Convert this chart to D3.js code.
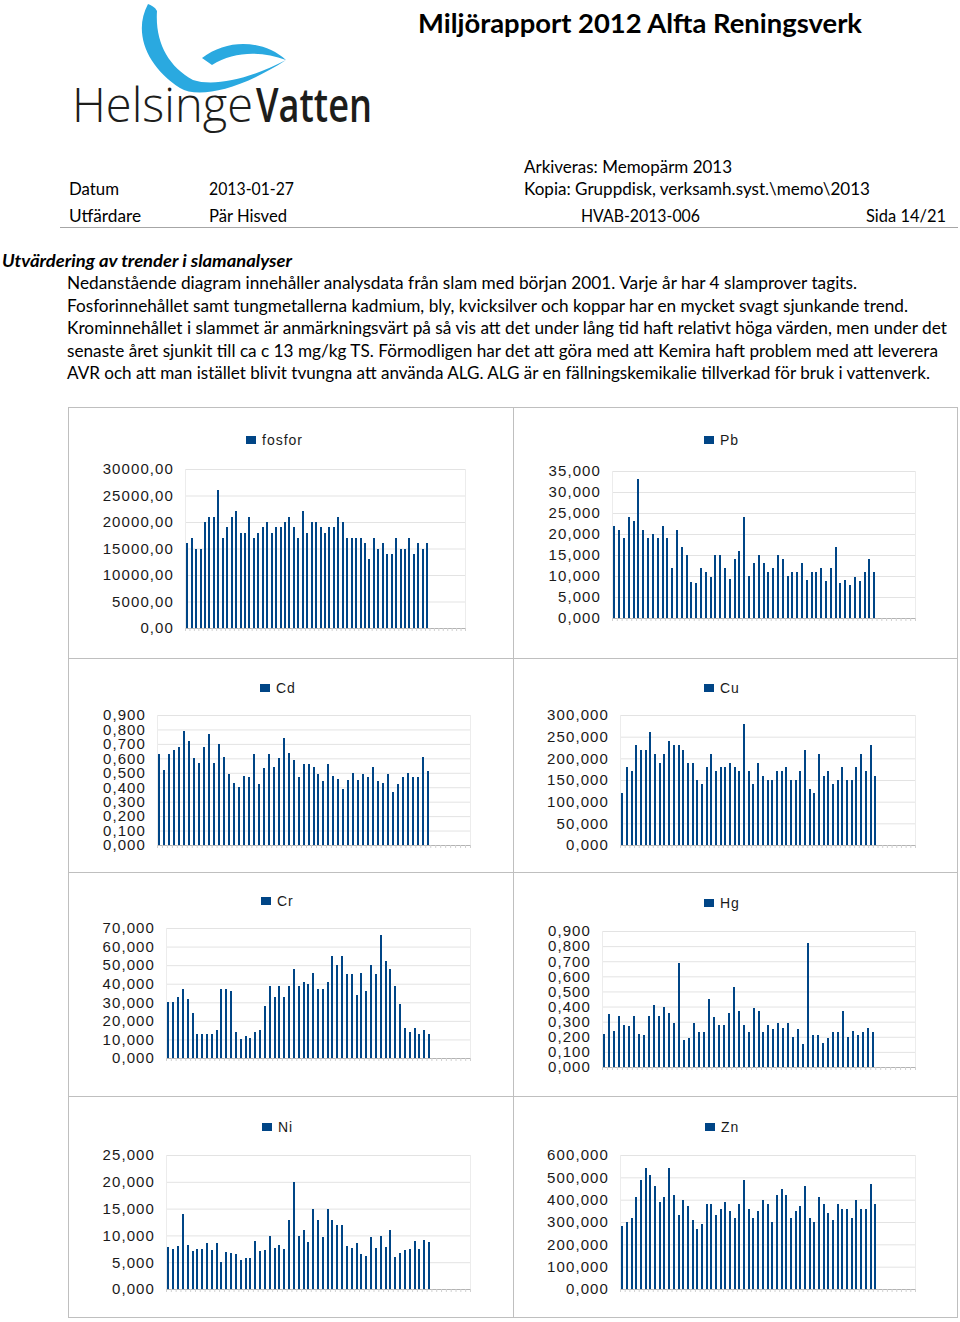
<!DOCTYPE html>
<html>
<head>
<meta charset="utf-8">
<script src="https://cdn.jsdelivr.net/npm/d3@7"></script>
<style>
  body { margin: 0; background: #fff; }
  svg { display: block; }
</style>
</head>
<body>
<div id="page"></div>
<script>
(function() {

// ---- data (one bar per slam sample, 2001 onwards) ----
var sampleSlots = d3.range(1, 64);   // 63 category slots on every x-axis, first 55 filled

var fosfor = [16000,17000,15000,15000,20000,21000,21000,26000,17000,19000,
              21000,22000,18000,18000,21000,17000,18000,19000,20000,18000,
              19000,19000,20000,21000,19000,17000,22000,18000,20000,20000,
              19000,18000,19000,19000,21000,20000,17000,17000,17000,17000,
              16000,13000,17000,15000,16000,14000,14000,17000,15000,15000,
              17000,14000,16000,15000,16000];
var pb = [22,21,19,24,23,33,21,19,20,19,
          22,19,12,21,17,15,8.5,8.3,12,11,
          9.7,15,15,12,9.4,14,16,24,10,13,
          15,13,11,12,15,14,10,11,11,13,
          9.1,11,11,12,8.8,12,17,8.3,9,7.9,
          9.8,8.8,11,14,11];
var cd = [0.63,0.52,0.63,0.66,0.68,0.79,0.72,0.60,0.57,0.68,
          0.77,0.57,0.70,0.61,0.49,0.43,0.40,0.48,0.47,0.63,
          0.42,0.53,0.63,0.54,0.60,0.74,0.64,0.59,0.47,0.56,
          0.56,0.54,0.49,0.44,0.56,0.48,0.46,0.39,0.45,0.50,
          0.45,0.49,0.47,0.54,0.44,0.43,0.49,0.37,0.42,0.47,
          0.50,0.47,0.47,0.61,0.51];
var cu = [120,180,170,230,220,220,260,210,190,210,
          240,230,230,220,190,190,150,140,180,210,
          170,180,180,190,180,170,280,170,140,190,
          160,150,150,170,170,180,150,150,170,220,
          130,120,210,160,170,140,150,180,150,150,
          180,210,170,230,160];
var cr = [30,30,33,37,32,24,13,13,13,13,
          15,37,37,36,14,10,12,11,14,15,
          28,39,33,39,33,39,48,39,41,40,
          46,37,37,41,55,50,55,45,45,34,
          46,36,50,45,66,52,48,39,29,16,
          14,16,13,15,13];
var hg = [0.22,0.35,0.24,0.34,0.28,0.27,0.34,0.22,0.21,0.34,
          0.41,0.34,0.40,0.36,0.29,0.69,0.18,0.19,0.29,0.23,
          0.23,0.45,0.33,0.28,0.28,0.36,0.53,0.37,0.28,0.23,
          0.39,0.37,0.23,0.28,0.25,0.29,0.26,0.29,0.20,0.25,
          0.15,0.82,0.21,0.21,0.16,0.19,0.23,0.23,0.37,0.20,
          0.24,0.21,0.23,0.26,0.23];
var ni = [7.8,7.5,8.0,14.0,8.3,7.0,7.4,7.4,8.6,7.2,
          8.6,5.0,6.9,6.8,6.5,5.5,5.7,5.8,9.0,7.0,
          7.3,9.9,7.6,8.3,7.4,12.9,20.0,9.9,11.0,8.8,
          15.0,12.9,9.7,15.0,12.9,12.0,12.0,8.1,7.6,8.6,
          6.5,6.1,9.7,7.7,9.9,7.8,11.0,5.9,6.8,7.2,
          7.4,9.0,7.5,9.2,8.7];
var zn = [280,300,320,410,490,540,510,460,390,410,
          540,420,330,400,370,310,270,290,380,380,
          330,360,390,350,320,380,490,360,320,350,
          400,380,300,420,450,420,320,350,370,460,
          320,300,410,380,340,310,380,360,360,320,
          400,360,360,470,380];

// tick values of each y-axis
var fosforTicks = [0,5000,10000,15000,20000,25000,30000];
var pbTicks = [0,5,10,15,20,25,30,35];
var cdTicks = [0,0.1,0.2,0.3,0.4,0.5,0.6,0.7,0.8,0.9];
var cuTicks = [0,50,100,150,200,250,300];
var crTicks = [0,10,20,30,40,50,60,70];
var hgTicks = [0,0.1,0.2,0.3,0.4,0.5,0.6,0.7,0.8,0.9];
var niTicks = [0,5,10,15,20,25];
var znTicks = [0,100,200,300,400,500,600];

// document text
var titleText = "Miljörapport 2012 Alfta Reningsverk";
var headingText = "Utvärdering av trender i slamanalyser";
var bodyLines = [
    "Nedanstående diagram innehåller analysdata från slam med början 2001. Varje år har 4 slamprover tagits.",
    "Fosforinnehållet samt tungmetallerna kadmium, bly, kvicksilver och koppar har en mycket svagt sjunkande trend.",
    "Krominnehållet i slammet är anmärkningsvärt på så vis att det under lång tid haft relativt höga värden, men under det",
    "senaste året sjunkit till ca c 13 mg/kg TS. Förmodligen har det att göra med att Kemira haft problem med att leverera",
    "AVR och att man istället blivit tvungna att använda ALG. ALG är en fällningskemikalie tillverkad för bruk i vattenverk."
];

// ---- page layout ----
var W = 960, H = 1322;
var docFont = "Lato, 'Open Sans', 'Noto Sans', sans-serif";
var chartFont = "'Liberation Sans', Arial, sans-serif";
var barColor = "#004586";

var sve = d3.formatLocale({decimal: ",", thousands: "", grouping: [3], currency: ["", " kr"]});

var svg = d3.select("#page")
    .append("svg")
    .attr("width", W)
    .attr("height", H);

svg.append("rect").attr("width", W).attr("height", H).attr("fill", "#fff");

drawLogo();
drawHeader();
drawTable();

var panels = [
    {name: "fosfor", values: fosfor, ticks: fosforTicks, fmt: sve.format(".2f"), x0: 185, x1: 465, top: 469, bottom: 628, lx: 246, ly: 440},
    {name: "Pb", values: pb, ticks: pbTicks, fmt: sve.format(".3f"), x0: 612, x1: 915, top: 471, bottom: 618, lx: 704, ly: 440},
    {name: "Cd", values: cd, ticks: cdTicks, fmt: sve.format(".3f"), x0: 157, x1: 470, top: 715, bottom: 845, lx: 260, ly: 688},
    {name: "Cu", values: cu, ticks: cuTicks, fmt: sve.format(".3f"), x0: 620, x1: 915, top: 715, bottom: 845, lx: 704, ly: 688},
    {name: "Cr", values: cr, ticks: crTicks, fmt: sve.format(".3f"), x0: 166, x1: 470, top: 928, bottom: 1058, lx: 261, ly: 901},
    {name: "Hg", values: hg, ticks: hgTicks, fmt: sve.format(".3f"), x0: 602, x1: 915, top: 931, bottom: 1067, lx: 704, ly: 903},
    {name: "Ni", values: ni, ticks: niTicks, fmt: sve.format(".3f"), x0: 166, x1: 470, top: 1155, bottom: 1289, lx: 262, ly: 1127},
    {name: "Zn", values: zn, ticks: znTicks, fmt: sve.format(".3f"), x0: 620, x1: 915, top: 1155, bottom: 1289, lx: 705, ly: 1127}
];

panels.forEach(drawPanel);

//text helper, optionally squeezed to a measured width
function docText(x, y, str, o) {
    var t = svg.append("text")
        .attr("x", x)
        .attr("y", y)
        .style("font-family", o.font || docFont)
        .style("font-size", o.size + "px")
        .style("font-weight", o.weight || 400)
        .style("font-style", o.style || "normal")
        .attr("fill", o.color || "#000")
        .text(str);
    if (o.width) {
        t.attr("textLength", o.width).attr("lengthAdjust", "spacingAndGlyphs");
    }
    return t;
}

function drawLogo() {
    var g = svg.append("g").attr("class", "logo");
    var blue = "#2aa9e0";

    //left arm running into the lower sweep
    g.append("path")
        .attr("d", "M148,4 C133,32 146,66 180,88 C198,99 240,90 286,60 C250,79 214,87 193,80 C168,66 155,42 157,11 C155,7 151,5 148,4 Z")
        .attr("fill", blue);
    //upper loop on the right
    g.append("path")
        .attr("d", "M202,58 C228,38 264,40 286,60 C262,51 234,51 212,65 Z")
        .attr("fill", blue);

    docText(72, 122, "Helsinge", {size: 47, font: "'Open Sans', sans-serif", weight: 300, width: 181, color: "#1d1d1b"});
    docText(256, 122, "Vatten", {size: 47, font: "'Open Sans', sans-serif", weight: 600, width: 116, color: "#1d1d1b"});
}

function drawHeader() {
    docText(418, 33, titleText, {size: 27, weight: 700, width: 444});

    docText(524, 173, "Arkiveras: Memopärm 2013", {size: 17, width: 208});
    docText(69, 195, "Datum", {size: 17, width: 50});
    docText(209, 195, "2013-01-27", {size: 17, width: 85});
    docText(524, 195, "Kopia: Gruppdisk, verksamh.syst.\\memo\\2013", {size: 17, width: 346});
    docText(69, 222, "Utfärdare", {size: 17, width: 72});
    docText(209, 222, "Pär Hisved", {size: 17, width: 78});
    docText(581, 222, "HVAB-2013-006", {size: 17, width: 119});
    docText(866, 222, "Sida 14/21", {size: 17, width: 80});

    svg.append("line")
        .attr("x1", 60).attr("x2", 958)
        .attr("y1", 227.5).attr("y2", 227.5)
        .attr("stroke", "#a6a6a6")
        .attr("stroke-width", 1);

    docText(2, 267, headingText, {size: 16.5, weight: 700, style: "italic", width: 290});

    var lineEnds = [857, 908, 947, 938, 930];
    bodyLines.forEach(function(str, i) {
        docText(67, 289 + i * 22.5, str, {size: 16.5, width: lineEnds[i] - 67});
    });
}

function drawTable() {
    var g = svg.append("g").attr("class", "table")
        .attr("stroke", "#bfbfbf")
        .attr("stroke-width", 1)
        .attr("fill", "none");
    g.append("rect").attr("x", 68.5).attr("y", 407.5).attr("width", 889).attr("height", 910);
    g.append("line").attr("x1", 513.5).attr("x2", 513.5).attr("y1", 407.5).attr("y2", 1317.5);
    [658.5, 872.5, 1096.5].forEach(function(y) {
        g.append("line").attr("x1", 68.5).attr("x2", 957.5).attr("y1", y).attr("y2", y);
    });
}

function drawPanel(p) {
    var g = svg.append("g").attr("class", "panel " + p.name);

    var x = d3.scaleBand()
        .domain(sampleSlots)
        .range([p.x0, p.x1])
        .paddingInner(0.55)
        .paddingOuter(0.275);

    var y = d3.scaleLinear()
        .domain([0, d3.max(p.ticks)])
        .range([p.bottom, p.top]);

    //horizontal gridlines
    g.append("g")
        .attr("class", "grid")
        .attr("transform", "translate(" + p.x0 + ",0)")
        .call(d3.axisLeft(y).tickValues(p.ticks).tickSize(-(p.x1 - p.x0)).tickFormat(""))
        .call(function(s) {
            s.select(".domain").remove();
            s.selectAll(".tick line").attr("stroke", "#e3e3e3");
        });

    //thin side edges of the plot area
    [p.x0, p.x1].forEach(function(xe) {
        g.append("line")
            .attr("x1", xe + 0.5).attr("x2", xe + 0.5)
            .attr("y1", p.top).attr("y2", p.bottom)
            .attr("stroke", "#ececec");
    });

    //bottom axis with small slot ticks
    var slotEdges = d3.scaleLinear().domain([0, sampleSlots.length]).range([p.x0, p.x1]);
    g.append("g")
        .attr("class", "x axis")
        .attr("transform", "translate(0," + p.bottom + ")")
        .call(d3.axisBottom(slotEdges).tickValues(d3.range(sampleSlots.length + 1)).tickSize(3).tickSizeOuter(0).tickFormat(""))
        .call(function(s) {
            s.select(".domain").attr("stroke", "#b3b3b3");
            s.selectAll(".tick line").attr("stroke", "#d0d0d0");
        });

    //bars, snapped to whole pixels so they stay evenly thin
    var barW = Math.max(2, Math.round(x.bandwidth()));
    g.append("g")
        .selectAll("rect")
        .data(p.values)
        .join("rect")
        .attr("x", function(d, i) { return Math.round(x(sampleSlots[i]) + x.bandwidth() / 2 - barW / 2); })
        .attr("width", barW)
        .attr("y", function(d) { return Math.round(y(d)); })
        .attr("height", function(d) { return Math.round(y(0)) - Math.round(y(d)); })
        .attr("fill", barColor);

    //y labels
    g.append("g")
        .attr("class", "y axis")
        .attr("transform", "translate(" + (p.x0 - 11) + ",0)")
        .call(d3.axisLeft(y).tickValues(p.ticks).tickSize(0).tickPadding(0).tickFormat(p.fmt))
        .call(function(s) {
            s.select(".domain").remove();
            s.selectAll(".tick text")
                .style("font-family", chartFont)
                .style("font-size", "15px")
                .style("letter-spacing", "1.1px")
                .attr("fill", "#1a1a1a");
        });

    //legend
    g.append("rect")
        .attr("x", p.lx).attr("y", p.ly - 4)
        .attr("width", 10).attr("height", 8)
        .attr("fill", barColor);
    g.append("text")
        .attr("x", p.lx + 16)
        .attr("y", p.ly + 5)
        .style("font-family", chartFont)
        .style("font-size", "14px")
        .style("letter-spacing", "1px")
        .attr("fill", "#1a1a1a")
        .text(p.name);
}

})();
</script>
</body>
</html>
